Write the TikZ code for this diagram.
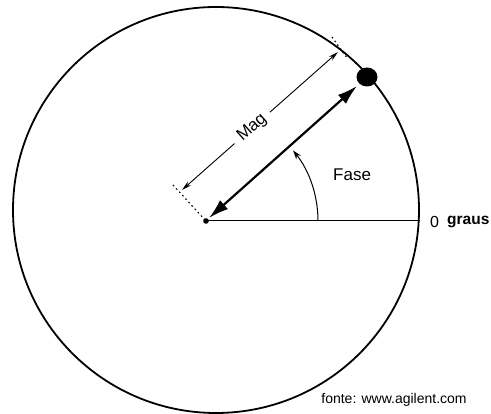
\documentclass[tikz,border=0pt]{standalone}
\usepackage{fontspec}
\setmainfont{Liberation Sans}
\usetikzlibrary{arrows.meta,calc,shapes.geometric}
\tikzset{
  lbl/.style={inner sep=0pt, font=\fontsize{17}{17}\selectfont},
  mainarrow/.style={line width=2.2pt, {Latex[length=20pt,width=12pt]}-{Latex[length=20pt,width=12pt]}},
  dimline/.style={line width=0.9pt, {Stealth[length=10pt,width=5pt]}-{Stealth[length=10pt,width=5pt]}},
  extline/.style={line width=1.1pt, dash pattern=on 1.6pt off 3pt},
}
\begin{document}
\begin{tikzpicture}[x=1pt,y=1pt]
\useasboundingbox (0,0) rectangle (491,414);
\coordinate (C) at (216,204);
\draw[line width=1.8pt] (C) circle[radius=203];
\coordinate (O) at (206,193);
\coordinate (R) at (420,193);
\draw[line width=1pt] (O) -- (R);
\fill (O) circle[radius=2.8];
\node[ellipse, fill, inner sep=0pt, minimum width=21pt, minimum height=19pt] (P) at (367,337) {};
\coordinate (T1) at (209,196);
\coordinate (T2) at (357,328);
\draw[mainarrow] (T1) -- (T2);
% magnitude dimension
\coordinate (M1) at (182,224);
\coordinate (M2) at (338,362);
\draw[dimline] (M1) -- node[pos=0.45, sloped, fill=white, inner xsep=7pt, inner ysep=1pt, font=\fontsize{17}{17}\selectfont] (mag) {Mag} (M2);
\coordinate (D1) at (173,229);
\coordinate (D2) at (205,194);
\coordinate (D3) at (332,377);
\coordinate (D4) at (347,356);
\draw[extline] (D1) -- (D2);
\draw[extline] (D3) -- (D4);
% phase arc
\coordinate (A0) at ($(O)+(112,0)$);
\draw[line width=1pt, -{Stealth[length=9pt,width=6pt]}] (A0) arc[start angle=0, end angle=39, radius=112];
\node[lbl, anchor=west] (fase) at (333,239) {Fase};
\node[lbl, anchor=west, font=\fontsize{16}{16}\selectfont] (zero) at (430,192) {0};
\node[lbl, anchor=west, font=\fontsize{15.5}{16}\selectfont\bfseries] (graus) at (447,192) {graus};
\node[lbl, font=\fontsize{14}{14}\selectfont] (fonte) at (394,14) {fonte: www.agilent.com};
\end{tikzpicture}
\end{document}
